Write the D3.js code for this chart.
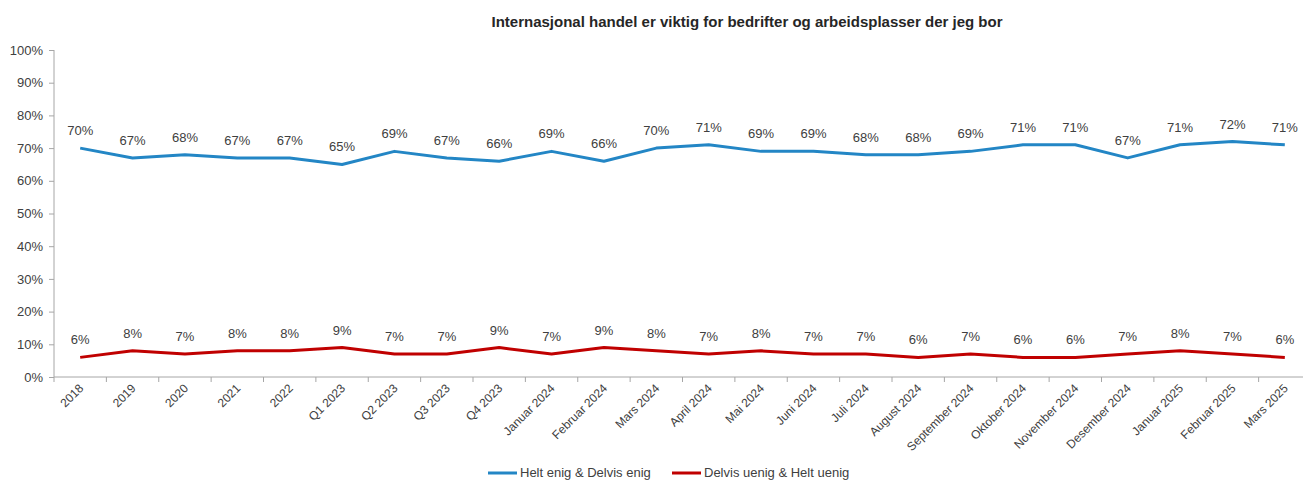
<!DOCTYPE html>
<html><head><meta charset="utf-8">
<script src="https://cdn.jsdelivr.net/npm/d3@7"></script>
<style>
html,body{margin:0;padding:0;background:#fff;overflow:hidden}
text{font-family:"Liberation Sans",Arial,sans-serif}
</style></head>
<body><svg id="c" width="1303" height="481"></svg>
<script>
const categories = ["2018","2019","2020","2021","2022","Q1 2023","Q2 2023","Q3 2023","Q4 2023","Januar 2024","Februar 2024","Mars 2024","April 2024","Mai 2024","Juni 2024","Juli 2024","August 2024","September 2024","Oktober 2024","November 2024","Desember 2024","Januar 2025","Februar 2025","Mars 2025"];
const enig = [70,67,68,67,67,65,69,67,66,69,66,70,71,69,69,68,68,69,71,71,67,71,72,71];
const uenig = [6,8,7,8,8,9,7,7,9,7,9,8,7,8,7,7,6,7,6,6,7,8,7,6];
const seriesNames = ["Helt enig & Delvis enig","Delvis uenig & Helt uenig"];
const seriesColors = ["#2386c5","#c00000"];
const yTicks = [0,10,20,30,40,50,60,70,80,90,100];
const title = "Internasjonal handel er viktig for bedrifter og arbeidsplasser der jeg bor";

const svg = d3.select("#c");
const pL = 54, pR = 1311, pT = 50, pB = 377;
const x = d3.scaleBand().domain(categories).range([pL, pR]);
const y = d3.scaleLinear().domain([0,100]).range([pB, pT]);
const axisColor = "#a6a6a6";

svg.append("text").attr("x", 747).attr("y", 27).attr("text-anchor","middle")
  .attr("font-size", 15).attr("font-weight","bold").attr("fill","#262626").text(title);

const ya = svg.append("g").attr("transform",`translate(${pL},0)`)
  .call(d3.axisLeft(y).tickValues(yTicks).tickSize(5).tickPadding(6).tickFormat(d => d + "%"));
ya.selectAll("path,line").attr("stroke", axisColor);
ya.selectAll("text").attr("font-size", 13).attr("fill","#404040").attr("font-family","Liberation Sans, Arial, sans-serif");
ya.select("path").attr("d", `M0,${pT}V${pB}`);

const xa = svg.append("g").attr("transform",`translate(0,${pB})`)
  .call(d3.axisBottom(x).tickSize(0).tickFormat(""));
xa.select("path").attr("stroke", axisColor).attr("d", `M${pL},0H${pR}`);
xa.selectAll(".tick").remove();
const bounds = categories.map((c,i) => pL + i * x.bandwidth());
xa.selectAll("line.tk").data(bounds).enter().append("line").attr("class","tk")
  .attr("x1", d=>d).attr("x2", d=>d).attr("y1",0).attr("y2",5).attr("stroke", axisColor);
xa.selectAll("text.lb").data(categories).enter().append("text").attr("class","lb")
  .attr("transform", d => `translate(${x(d)+x.bandwidth()/2+4},${12}) rotate(-45)`)
  .attr("text-anchor","end").attr("font-size", 12).attr("fill","#404040").text(d=>d);

const line = d3.line().x((d,i)=>x(categories[i]) + x.bandwidth()/2).y(d=>y(d));
[enig, uenig].forEach((vals, s) => {
  svg.append("path").datum(vals).attr("d", line).attr("fill","none")
    .attr("stroke", seriesColors[s]).attr("stroke-width", 3).attr("stroke-linejoin","round");
  svg.selectAll(null).data(vals).enter().append("text")
    .attr("x", (d,i)=>x(categories[i]) + x.bandwidth()/2)
    .attr("y", d => y(d) - 13)
    .attr("text-anchor","middle").attr("font-size", 13).attr("fill","#404040")
    .text(d => d + "%");
});

const lg = [{x:488, s:0},{x:672, s:1}];
lg.forEach(o => {
  svg.append("line").attr("x1", o.x).attr("x2", o.x+29).attr("y1", 473).attr("y2", 473)
    .attr("stroke", seriesColors[o.s]).attr("stroke-width", 3);
  svg.append("text").attr("x", o.x+32).attr("y", 477).attr("font-size", 13).attr("fill","#404040")
    .text(seriesNames[o.s]);
});
</script></body></html>
